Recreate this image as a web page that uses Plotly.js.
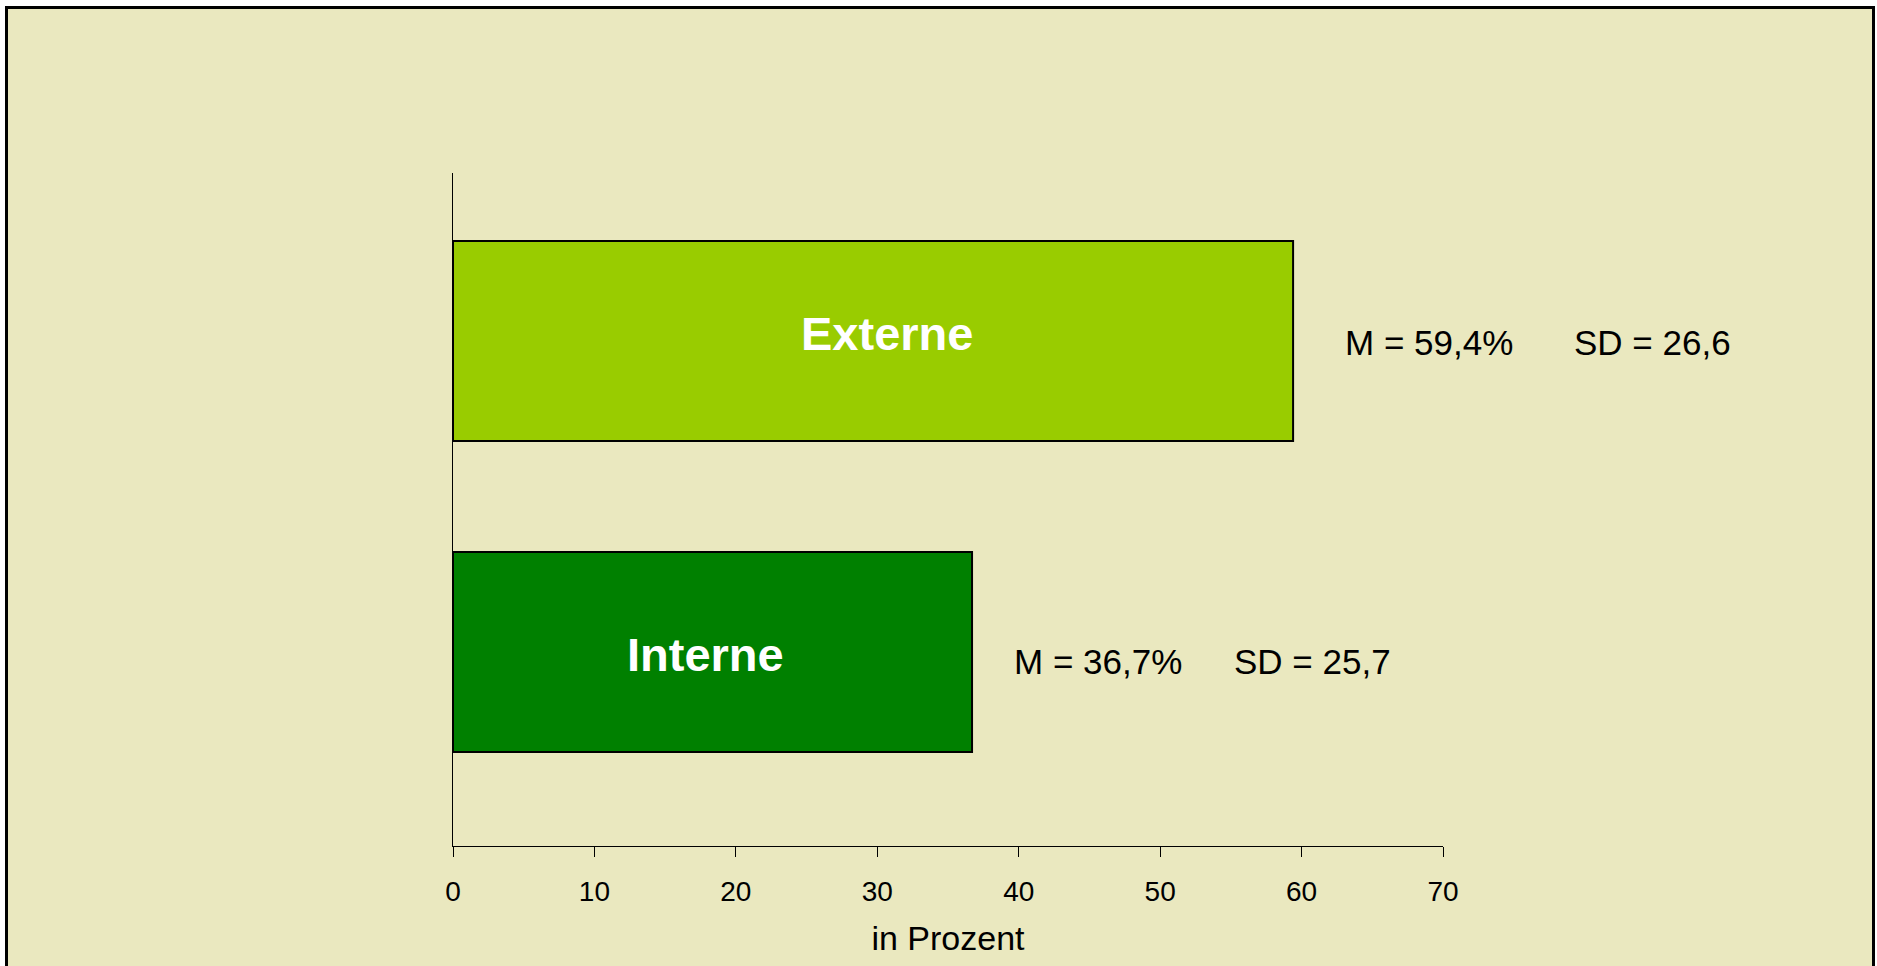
<!DOCTYPE html>
<html>
<head>
<meta charset="utf-8">
<script src="https://cdn.plot.ly/plotly-3.0.1.min.js"></script>
<style>
  html, body { margin: 0; padding: 0; background: #ffffff; width: 1877px; height: 966px; overflow: hidden; }
  #frame { position: absolute; left: 5px; top: 6px; width: 1864px; height: 1000px; border: 3px solid #000; background: #EAE8BF; z-index: 0; }
  #chart { position: absolute; left: 0; top: 0; width: 1877px; height: 966px; z-index: 1; }
</style>
</head>
<body>
<div id="frame"></div>
<div id="chart"></div>
<script>
// Data
const categories = ["Interne", "Externe"];
const means = [36.7, 59.4];
const sds = [25.7, 26.6];
const barColors = ["#008000", "#99CC00"];
const xTicks = [0, 10, 20, 30, 40, 50, 60, 70];
const xTitle = "in Prozent";

const font = "Liberation Sans, Arial, sans-serif";

const trace = {
  type: "bar",
  orientation: "h",
  y: categories,
  x: means,
  width: 0.643,
  marker: { color: barColors, line: { color: "#000", width: 2 } },
  hoverinfo: "x+y"
};

const fmt = v => v.toFixed(1).replace(".", ",");
// label placement (pixels), per category in order of `categories`
const nameShiftX = [-7, 14];
const nameShiftY = [-3, 7];
const mShift = [40, 50];
const sdShift = [260, 279];
const statShiftY = [-10, -2];

const annotations = [];
categories.forEach((c, i) => {
  annotations.push({
    x: means[i] / 2, y: c, xref: "x", yref: "y",
    text: "<b>" + c + "</b>",
    showarrow: false, xanchor: "center", yanchor: "middle",
    xshift: nameShiftX[i], yshift: nameShiftY[i],
    font: { family: font, size: 47, color: "#ffffff" }
  });
  annotations.push({
    x: means[i], y: c, xref: "x", yref: "y",
    text: "M = " + fmt(means[i]) + "%",
    showarrow: false, xanchor: "left", yanchor: "middle",
    xshift: mShift[i], yshift: statShiftY[i],
    font: { family: font, size: 35, color: "#000" }
  });
  annotations.push({
    x: means[i], y: c, xref: "x", yref: "y",
    text: "SD = " + fmt(sds[i]),
    showarrow: false, xanchor: "left", yanchor: "middle",
    xshift: sdShift[i], yshift: statShiftY[i],
    font: { family: font, size: 35, color: "#000" }
  });
});

const layout = {
  width: 1877, height: 966,
  paper_bgcolor: "rgba(0,0,0,0)",
  plot_bgcolor: "rgba(0,0,0,0)",
  margin: { l: 453, r: 433.5, t: 173, b: 120, pad: 0 },
  showlegend: false,
  xaxis: {
    range: [0, 70],
    tickvals: xTicks,
    ticktext: xTicks.map(String),
    showgrid: false, zeroline: false,
    showline: true, linecolor: "#000", linewidth: 1,
    ticks: "outside", ticklen: 10, tickcolor: "#000", tickwidth: 1,
    ticklabelstandoff: 10,
    tickfont: { family: font, size: 28, color: "#000" },
    title: { text: xTitle, font: { family: font, size: 34, color: "#000" }, standoff: 20 }
  },
  yaxis: {
    type: "category",
    categoryorder: "array",
    categoryarray: categories,
    range: [-0.624, 1.54],
    showticklabels: false,
    ticks: "",
    showgrid: false, zeroline: false,
    showline: true, linecolor: "#000", linewidth: 1
  },
  annotations: annotations
};

Plotly.newPlot("chart", [trace], layout, { displayModeBar: false, staticPlot: true });
</script>
</body>
</html>
